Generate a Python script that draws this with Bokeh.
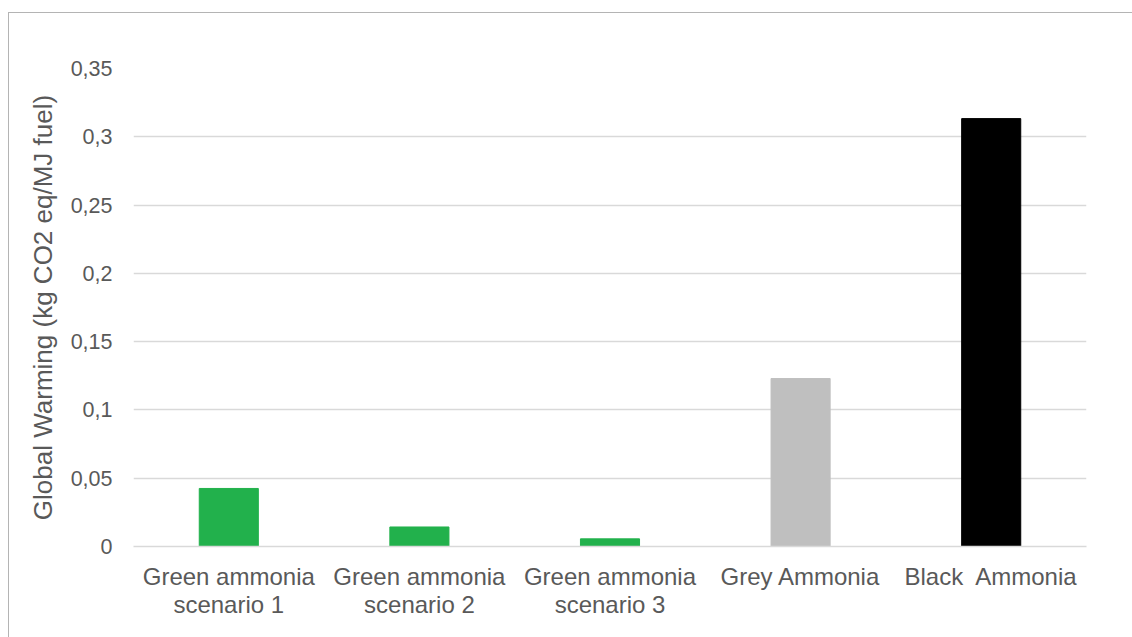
from bokeh.plotting import figure
from bokeh.models import ColumnDataSource, FactorRange, FixedTicker, CustomJSTickFormatter, Range1d
from bokeh.embed import file_html
from bokeh.resources import INLINE

# Global warming impact per fuel pathway
categories = ["Green ammonia\nscenario 1", "Green ammonia\nscenario 2",
              "Green ammonia\nscenario 3", "Grey Ammonia", "Black\u00a0 Ammonia"]
values = [0.0425, 0.0143, 0.0056, 0.123, 0.3133]
colors = ["#22b14c", "#22b14c", "#22b14c", "#bfbfbf", "#000000"]
y_ticks = [0, 0.05, 0.1, 0.15, 0.2, 0.25, 0.3, 0.35]

source = ColumnDataSource(data=dict(cat=categories, val=values, color=colors))

FONT = "Liberation Sans"
TEXT = "#595959"
GRID = "#d9d9d9"

p = figure(
    x_range=FactorRange(*categories, range_padding=0.0),
    y_range=Range1d(0, 0.35),
    width=1124, height=625,
    output_backend="svg", toolbar_location=None,
    min_border_left=124, min_border_right=47,
    min_border_top=55, min_border_bottom=92,
)
p.styles = {"margin-left": "8px", "margin-top": "12px",
            "border-top": "1px solid #b4b4b4", "border-left": "1px solid #b4b4b4"}

p.vbar(x="cat", top="val", width=0.31, color="color", source=source)

p.outline_line_color = None
p.xgrid.grid_line_color = None
p.ygrid.grid_line_color = GRID
p.ygrid.grid_line_width = 1.5
p.ygrid.ticker = FixedTicker(ticks=y_ticks)

p.yaxis.ticker = FixedTicker(ticks=y_ticks)
p.yaxis.formatter = CustomJSTickFormatter(code="return tick.toString().replace('.', ',');")
p.yaxis.axis_line_color = None
p.yaxis.major_tick_line_color = None
p.yaxis.minor_tick_line_color = None
p.yaxis.major_label_standoff = 15
p.yaxis.major_label_text_font = FONT
p.yaxis.major_label_text_font_size = "21.5px"
p.yaxis.major_label_text_color = TEXT
p.yaxis.axis_label = "Global Warming (kg CO2 eq/MJ fuel)"
p.yaxis.axis_label_text_font = FONT
p.yaxis.axis_label_text_font_size = "26px"
p.yaxis.axis_label_text_font_style = "normal"
p.yaxis.axis_label_text_color = TEXT
p.yaxis.axis_label_standoff = 10

p.xaxis.axis_line_color = GRID
p.xaxis.axis_line_width = 1.5
p.xaxis.major_tick_line_color = None
p.xaxis.minor_tick_line_color = None
p.xaxis.major_label_standoff = 10
p.xaxis.major_label_text_font = FONT
p.xaxis.major_label_text_font_size = "24px"
p.xaxis.major_label_text_color = TEXT
p.xaxis.major_label_text_line_height = 1.05

open("out.html", "w").write(file_html(p, INLINE))
